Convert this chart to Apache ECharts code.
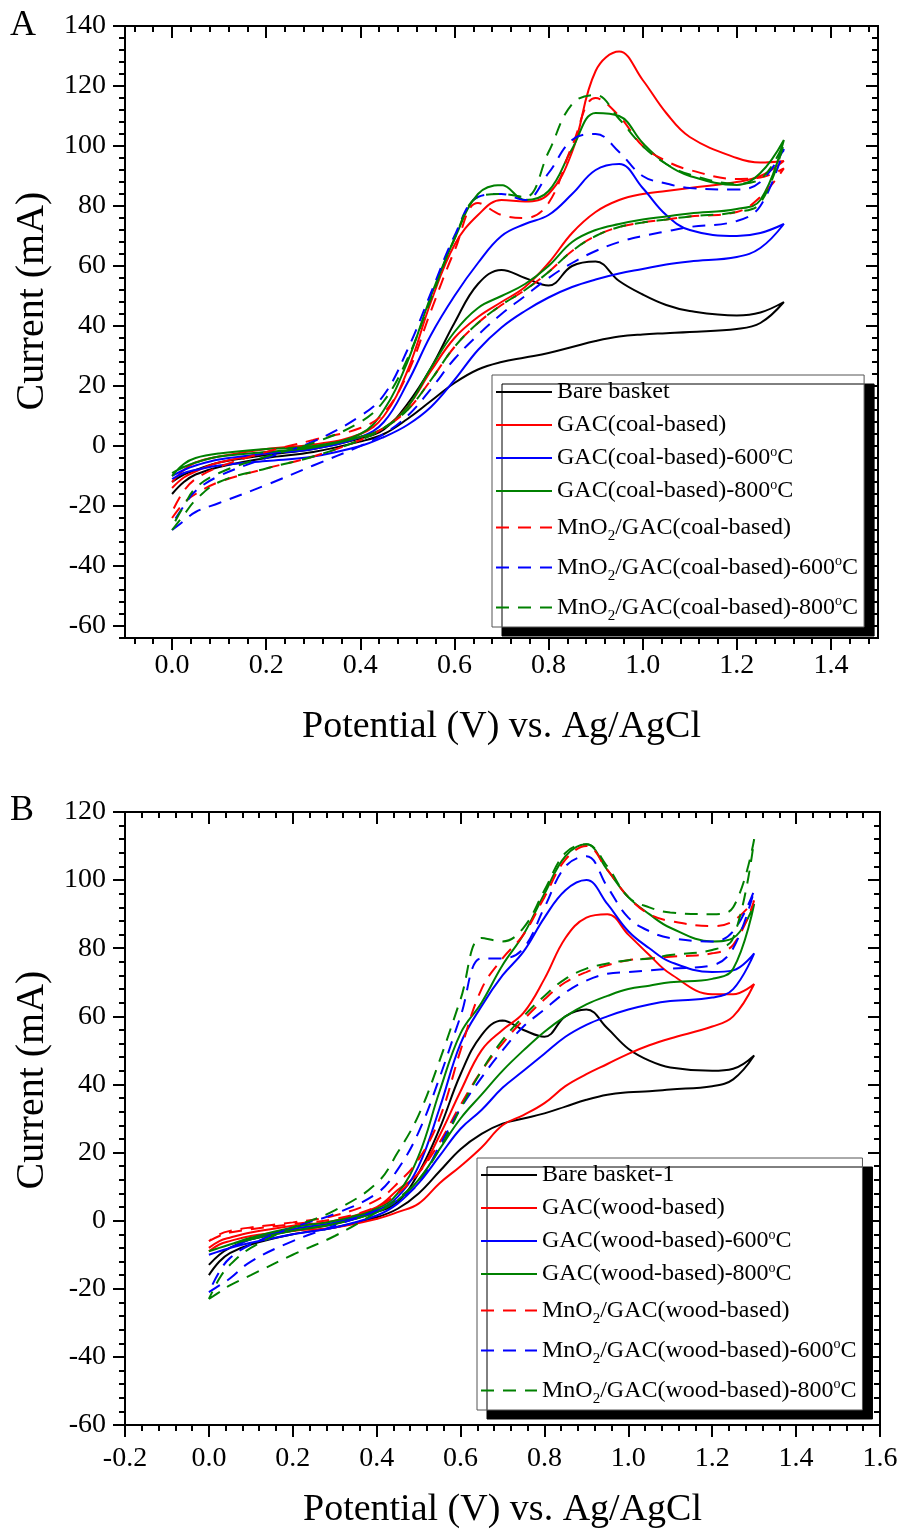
<!DOCTYPE html>
<html>
<head>
  <meta charset="utf-8">
  <script src="https://cdn.jsdelivr.net/npm/echarts@6.0.0/dist/echarts.min.js"></script>
  <style>
    body {
      margin: 0;
      padding: 0;
      background-color: white;
    }
    #main {
      width: 905px;
      height: 1532px;
    }
  </style>
  <title>Cyclic voltammograms</title>
</head>
<body>
<div id="main"></div>
<script>
  // potential grid (V vs. Ag/AgCl), shared by both sweeps of every loop
  var V = [0, 0.025, 0.05, 0.1, 0.2, 0.3, 0.4, 0.45, 0.5, 0.55, 0.6, 0.65, 0.7, 0.75, 0.8, 0.85, 0.9, 0.95, 1.0, 1.05, 1.1, 1.2, 1.25, 1.3];

  // panel A - coal based (mA), lower sweep / upper sweep
  var aBareLo = [-16, -12, -9.5, -7, -4, -2, 1.5, 4, 9, 15, 21, 25.5, 28, 29.5, 31, 33, 35, 36.5, 37.2, 37.6, 38, 39, 41, 48];
  var aBareUp = [-12, -9.5, -8, -5.5, -3, -1, 2.5, 5.5, 14, 26, 41, 54, 58.7, 56, 53.5, 60, 61.5, 55, 50.5, 47, 45, 43.5, 44.5, 48];
  var aGacLo = [-14, -10.5, -8.5, -5.5, -2.5, -0.5, 3, 6, 13, 25, 36, 43, 48, 53, 61, 71, 78, 82, 84, 85, 86, 88, 90, 95];
  var aGacUp = [-12, -8, -5.5, -3.5, -1, 0.5, 4, 10, 25, 48, 67, 77, 82, 81.5, 84, 98, 125, 131.5, 122, 111, 103, 96, 94.5, 95];
  var aGac600Lo = [-11, -9, -8, -6.5, -5, -3.5, 0, 3, 7, 13, 22, 32, 39.5, 45, 49.5, 53, 55.5, 57.5, 59, 60.5, 61.5, 63, 66, 74];
  var aGac600Up = [-10, -8, -6.5, -4.5, -2.5, -1, 3, 8, 21, 37, 50, 61, 70, 74, 77, 84, 92, 94, 86, 77, 72, 70, 71, 74];
  var aGac800Lo = [-9, -7, -5.5, -3.5, -2, -0.5, 3, 6, 13, 26, 38, 46, 50, 54, 60, 68, 72, 74, 75.5, 76.5, 77.5, 79, 82, 102];
  var aGac800Up = [-10, -6, -4, -2.5, -1, 0, 4, 12, 28, 50, 69, 84, 87, 82, 85, 99, 111, 110, 101, 94, 90, 87, 91, 102];
  var aMnLo = [-24, -19, -16, -12, -7.5, -3.5, 2, 6, 12, 22, 33, 41, 47, 52, 58, 65, 70, 73, 74.5, 75.5, 76.5, 78, 83, 92.5];
  var aMnUp = [-22, -15, -11, -7, -2, 2, 6, 11, 24, 45, 65, 81, 77, 76, 81, 100, 116, 110, 100, 95, 92, 89, 89.5, 92.5];
  var aMn600Lo = [-28, -25, -22, -19, -13, -6.5, 0, 4, 10, 19, 29, 37, 44, 50, 56, 61, 65, 68, 70, 71.5, 73, 75, 80, 99];
  var aMn600Up = [-26, -20, -15, -10, -4, 1.5, 10, 17, 32, 51, 70, 83, 84, 82, 91, 102, 104, 98, 90, 87.5, 86, 85.5, 88, 99];
  var aMn800Lo = [-28, -23, -18, -12, -7.5, -3.5, 2, 6, 12, 22, 33, 41, 47, 52, 58, 65, 70, 73, 74.5, 75.5, 76.5, 78, 81, 101];
  var aMn800Up = [-27, -20, -14, -9, -3.5, 1, 8, 15, 29, 49, 69, 83, 84, 83, 98, 114, 117, 109, 100, 94, 90.5, 87.5, 89, 101];

  // panel B - wood based (mA)
  var bBareLo = [-16, -12, -9.5, -7, -4, -2, 1, 3.5, 8, 14.5, 21, 25.5, 28.5, 30, 31.5, 33.5, 35.5, 37, 37.7, 38, 38.5, 39.5, 41.5, 48.5];
  var bBareUp = [-13, -10, -8, -5.5, -3, -1, 2.5, 5.5, 14, 27, 43, 54.5, 58.8, 56, 54, 60, 62, 56.5, 50.5, 47, 45, 44, 44.6, 48.5];
  var bGacLo = [-9, -7, -6, -4.5, -3, -2, 0.5, 2.5, 5, 11, 16, 21.5, 28, 31, 34.5, 39.5, 43, 46, 49, 51.5, 53.5, 57, 60, 69.5];
  var bGacUp = [-8, -6, -5, -3.5, -1.5, 0, 4, 9, 14, 25, 38, 50, 56, 61, 71, 83, 89, 90, 84, 78, 72.5, 66.5, 66.5, 69.5];
  var bGac600Lo = [-10, -9, -8, -6.5, -4, -2, 1.5, 5, 11, 19, 27, 32.5, 39, 44, 49, 54, 57.5, 60, 62, 63.5, 64.5, 65.5, 68, 78.5];
  var bGac600Up = [-10, -9, -8, -5.5, -2.5, -0.5, 3, 7, 16, 33, 52, 63, 72, 79, 89, 97, 100, 93, 85, 80, 76, 73, 73.5, 78.5];
  var bGac800Lo = [-9, -8, -7, -5.5, -3, -1, 2.5, 6, 12, 21, 30, 37, 44, 50, 55.5, 60, 63.5, 66, 68, 69, 70, 71, 74, 93];
  var bGac800Up = [-9, -8, -7, -5, -2, 0, 3.5, 8, 19, 38, 55, 64, 75, 84, 96, 107, 110.5, 103, 95, 90, 86, 82, 83, 93];
  var bMnLo = [-6, -4.5, -3.5, -2.5, -1, 0.5, 4, 8, 14, 23, 34, 44, 52, 59, 65, 70, 73, 75, 76.5, 77, 77.5, 78.5, 81, 94];
  var bMnUp = [-6, -4, -3, -2, -0.5, 1.5, 6, 11, 18, 30, 50, 68, 77, 84, 95, 106, 110, 103, 95, 90, 88, 86.5, 88, 94];
  var bMn600Lo = [-21, -19, -17, -12, -6, -1.5, 3, 6, 11, 22, 33, 42, 50, 57, 62, 67, 70.5, 72.5, 73, 73.5, 74, 75, 80, 97];
  var bMn600Up = [-21, -15, -11, -7, -2, 2, 8, 15, 26, 42, 60, 77, 77, 80, 92, 104, 107, 98, 89, 85, 83, 82, 85, 97];
  var bMn800Lo = [-23, -21, -19, -16, -10, -4.5, 2.5, 6.5, 12, 21, 33, 44, 53, 60, 66, 71, 74, 75.5, 76.5, 77, 78, 79.5, 83, 112];
  var bMn800Up = [-23, -17, -13, -8, -2, 3, 11, 20, 31, 47, 65, 83, 82, 86, 97, 108, 110.5, 104, 95, 92, 90.5, 90, 92, 112];

  // tick labels
  var xLabelsA = [0, 0.2, 0.4, 0.6, 0.8, 1.0, 1.2, 1.4];
  var xLabelsB = [-0.2, 0, 0.2, 0.4, 0.6, 0.8, 1.0, 1.2, 1.4, 1.6];
  var yLabelsA = [-60, -40, -20, 0, 20, 40, 60, 80, 100, 120, 140];
  var yLabelsB = [-60, -40, -20, 0, 20, 40, 60, 80, 100, 120];

  var namesA = ['Bare basket', 'GAC(coal-based)', 'GAC(coal-based)-600°C', 'GAC(coal-based)-800°C',
    'MnO2/GAC(coal-based)', 'MnO2/GAC(coal-based)-600°C', 'MnO2/GAC(coal-based)-800°C'];
  var namesB = ['Bare basket-1', 'GAC(wood-based)', 'GAC(wood-based)-600°C', 'GAC(wood-based)-800°C',
    'MnO2/GAC(wood-based)', 'MnO2/GAC(wood-based)-600°C', 'MnO2/GAC(wood-based)-800°C'];

  var FONT = '"Liberation Serif", "Times New Roman", serif';
  var colors = ['#000000', '#ff0000', '#0000ff', '#008000', '#ff0000', '#0000ff', '#008000'];

  // minor tick positions
  function steps(from, to, step, dec) {
    var out = [];
    var n = Math.round((to - from) / step);
    for (var i = 0; i <= n; i++) out.push(+(from + i * step).toFixed(dec));
    return out;
  }

  // closed CV loop: lower sweep out, upper sweep back
  function loop(lo, up) {
    var pts = V.map(function (v, i) { return [v, lo[i]]; });
    for (var i = V.length - 2; i >= 0; i--) pts.push([V[i], up[i]]);
    return pts;
  }

  function axisSet(grid, min, max, majors, minors, isX, labelMargin) {
    var base = {
      type: 'value', gridIndex: grid, min: min, max: max,
      splitLine: { show: false },
      axisLine: { show: true, onZero: false, lineStyle: { color: '#000', width: 2 } }
    };
    var posA = isX ? 'bottom' : 'left';
    var posB = isX ? 'top' : 'right';
    return [
      Object.assign({}, base, {
        position: posA,
        axisTick: { show: true, customValues: majors, length: 12, lineStyle: { color: '#000', width: 2 } },
        axisLabel: {
          show: true, customValues: majors, margin: labelMargin, color: '#000',
          fontFamily: FONT, fontSize: 28,
          formatter: function (v) { return isX ? v.toFixed(1) : String(v); }
        }
      }),
      Object.assign({}, base, {
        position: posA,
        axisTick: { show: true, customValues: minors, length: 6, lineStyle: { color: '#000', width: 2 } },
        axisLabel: { show: false, customValues: minors }
      }),
      Object.assign({}, base, {
        position: posB,
        axisTick: { show: true, inside: true, customValues: majors, length: 12, lineStyle: { color: '#000', width: 2 } },
        axisLabel: { show: false, customValues: majors }
      }),
      Object.assign({}, base, {
        position: posB,
        axisTick: { show: true, inside: true, customValues: minors, length: 6, lineStyle: { color: '#000', width: 2 } },
        axisLabel: { show: false, customValues: minors }
      })
    ];
  }

  var xAxes = axisSet(0, -0.1, 1.5, xLabelsA, steps(-0.08, 1.48, 0.04, 2), true, 14)
    .concat(axisSet(1, -0.2, 1.6, xLabelsB, steps(-0.2, 1.6, 0.04, 2), true, 20));
  var yAxes = axisSet(0, -64, 140, yLabelsA, steps(-64, 140, 4, 0), false, 19)
    .concat(axisSet(1, -60, 120, yLabelsB, steps(-60, 120, 4, 0), false, 19));

  xAxes[0].name = 'Potential (V) vs. Ag/AgCl';
  xAxes[4].name = 'Potential (V) vs. Ag/AgCl';
  [xAxes[0], xAxes[4]].forEach(function (ax, k) {
    ax.nameLocation = 'middle';
    ax.nameGap = k === 0 ? 70 : 66;
    ax.nameTextStyle = { fontFamily: FONT, fontSize: 38, color: '#000' };
  });

  var loopsA = [loop(aBareLo, aBareUp), loop(aGacLo, aGacUp), loop(aGac600Lo, aGac600Up), loop(aGac800Lo, aGac800Up),
    loop(aMnLo, aMnUp), loop(aMn600Lo, aMn600Up), loop(aMn800Lo, aMn800Up)];
  var loopsB = [loop(bBareLo, bBareUp), loop(bGacLo, bGacUp), loop(bGac600Lo, bGac600Up), loop(bGac800Lo, bGac800Up),
    loop(bMnLo, bMnUp), loop(bMn600Lo, bMn600Up), loop(bMn800Lo, bMn800Up)];

  var series = [];
  function addSeries(names, loops, axisIdx) {
    names.forEach(function (name, i) {
      series.push({
        name: name,
        type: 'line',
        xAxisIndex: axisIdx,
        yAxisIndex: axisIdx,
        data: loops[i],
        smooth: 0.4,
        symbol: 'none',
        lineStyle: { color: colors[i], width: 2, type: i >= 4 ? [13, 9] : 'solid' },
        itemStyle: { color: colors[i] }
      });
    });
  }
  addSeries(namesA, loopsA, 0);
  addSeries(namesB, loopsB, 4);

  function legendText(name) {
    return name.replace('MnO2', 'MnO{sub|2}').replace('°C', '{sup|o}C');
  }

  function legendFor(names, left, top) {
    return {
      data: names,
      orient: 'vertical',
      left: left,
      top: top,
      selectedMode: false,
      itemWidth: 56,
      itemHeight: 14,
      itemGap: 7,
      padding: [4, 6, 3, 3],
      backgroundColor: '#fff',
      borderColor: '#555',
      borderWidth: 1,
      shadowColor: '#000',
      shadowBlur: 0,
      shadowOffsetX: 10,
      shadowOffsetY: 9,
      itemStyle: { opacity: 0 },
      formatter: legendText,
      textStyle: {
        fontFamily: FONT, fontSize: 24, color: '#000', lineHeight: 26,
        rich: {
          sub: { fontFamily: FONT, fontSize: 15, lineHeight: 15, padding: [18, 0, 0, 0], color: '#000' },
          sup: { fontFamily: FONT, fontSize: 14, lineHeight: 12, padding: [0, 0, 12, 0], color: '#000' }
        }
      }
    };
  }

  var myChart = echarts.init(document.getElementById('main'), null, { renderer: 'canvas' });
  myChart.setOption({
    animation: false,
    backgroundColor: '#fff',
    grid: [
      { left: 125, top: 26, width: 753, height: 612 },
      { left: 125, top: 812, width: 755, height: 613 }
    ],
    xAxis: xAxes,
    yAxis: yAxes,
    legend: [legendFor(namesA, 492, 375), legendFor(namesB, 477, 1158)],
    graphic: [
      { type: 'text', left: 10, top: 8, style: { text: 'A', font: '36px ' + FONT, fill: '#000' } },
      { type: 'text', left: 10, top: 793, style: { text: 'B', font: '36px ' + FONT, fill: '#000' } },
      { type: 'text', x: 32, y: 301, rotation: Math.PI / 2,
        style: { text: 'Current (mA)', font: '40px ' + FONT, fill: '#000', align: 'center', verticalAlign: 'middle' } },
      { type: 'text', x: 32, y: 1080, rotation: Math.PI / 2,
        style: { text: 'Current (mA)', font: '40px ' + FONT, fill: '#000', align: 'center', verticalAlign: 'middle' } }
    ],
    series: series
  });
</script>
</body>
</html>
